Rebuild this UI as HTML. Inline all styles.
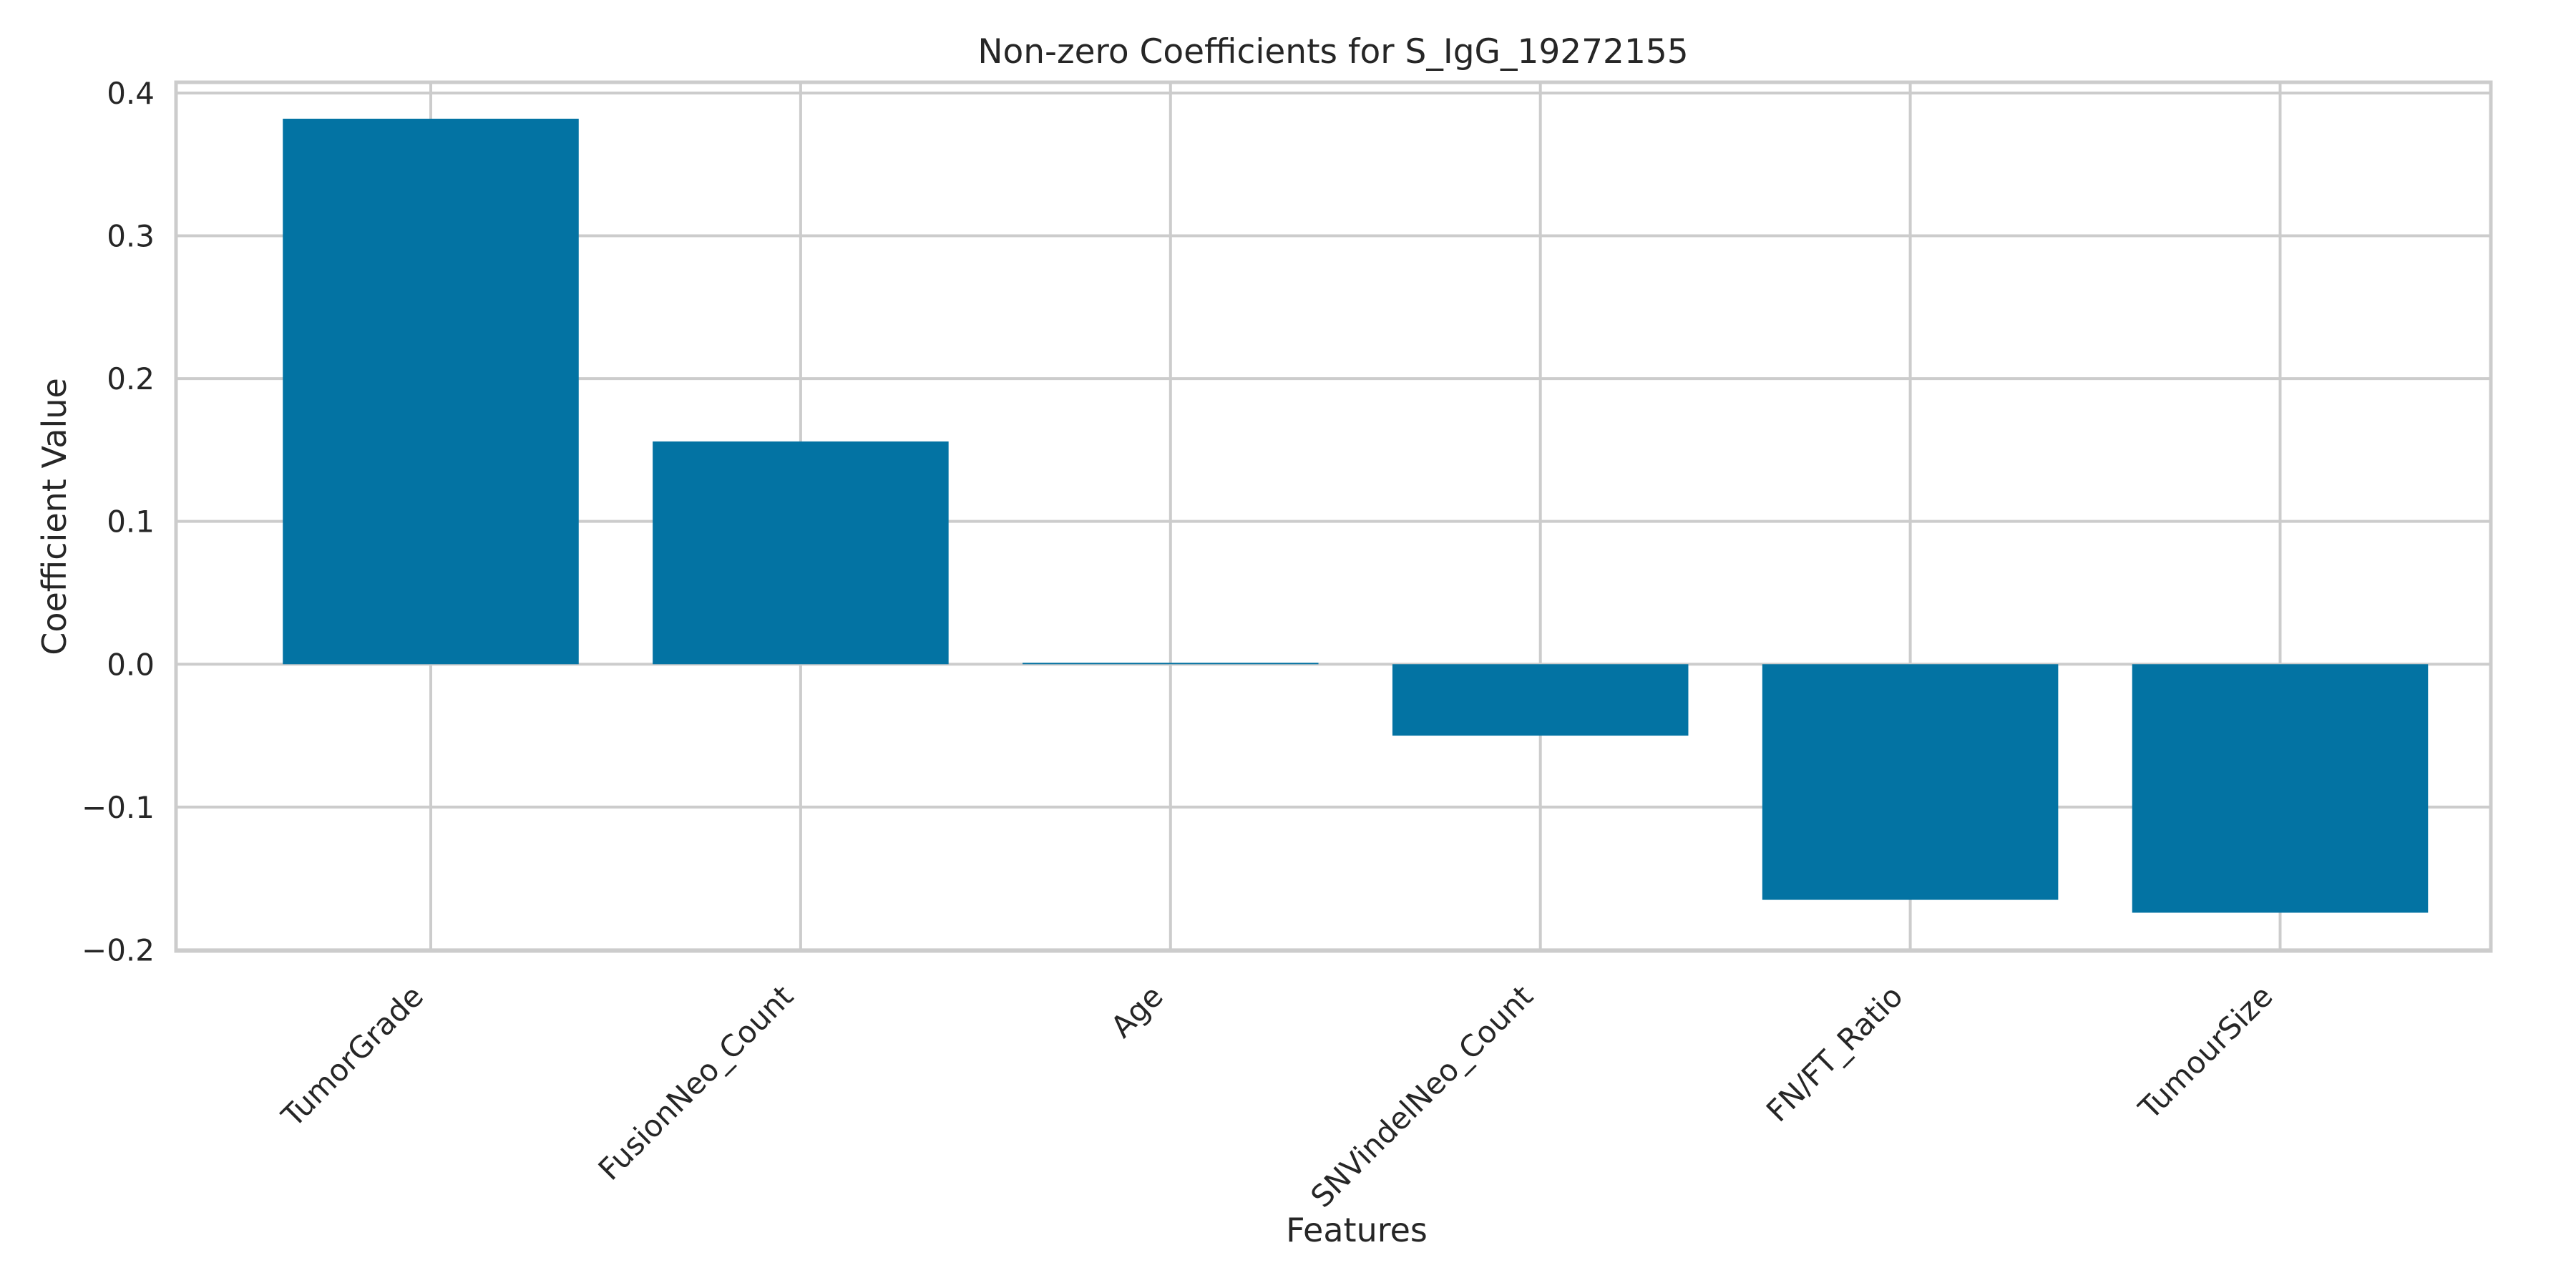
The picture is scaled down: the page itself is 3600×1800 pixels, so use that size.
<!DOCTYPE html>
<html><head><meta charset="utf-8"><style>
html,body{margin:0;padding:0;background:#fff;}
svg{display:block;font-family:"DejaVu Sans","Liberation Sans",sans-serif;}
</style></head><body>
<svg id="chart" width="3600" height="1800" viewBox="0 0 3600 1800">
<rect x="0" y="0" width="3600" height="1800" fill="#fff"/>
<g id="grid"></g><g id="bars"></g><g id="ticks"></g>
<rect x="246" y="115" width="3235" height="1214" fill="none" stroke="#cccccc" stroke-width="5"/>
<text x="1863" y="88" text-anchor="middle" font-size="47" fill="#262626">Non-zero Coefficients for S_IgG_19272155</text>
<text x="1896" y="1735" text-anchor="middle" font-size="46" fill="#262626">Features</text>
<text transform="translate(92,722) rotate(-90)" text-anchor="middle" font-size="46" fill="#262626">Coefficient Value</text>
</svg>
<script>
const categories = ["TumorGrade","FusionNeo_Count","Age","SNVindelNeo_Count","FN/FT_Ratio","TumourSize"];
const values = [0.382, 0.156, 0.001, -0.050, -0.165, -0.174];
const yTicks = [0.4, 0.3, 0.2, 0.1, 0.0, -0.1, -0.2];
const yTickLabels = ["0.4","0.3","0.2","0.1","0.0","\u22120.1","\u22120.2"];

const NS = "http://www.w3.org/2000/svg";
const plotLeft = 246, plotRight = 3481, plotTop = 115, plotBottom = 1329;
const yMin = -0.2008, yMax = 0.4075;
function yScale(v){ return plotBottom - (v - yMin) / (yMax - yMin) * (plotBottom - plotTop); }
const x0 = 602, step = 516.9;
function xScale(i){ return x0 + i * step; }
const barW = 0.8 * step;
function mk(tag, attrs, parent){ const e = document.createElementNS(NS, tag); for (const k in attrs) e.setAttribute(k, attrs[k]); parent.appendChild(e); return e; }
const gridG = document.getElementById('grid'), barsG = document.getElementById('bars'), ticksG = document.getElementById('ticks');
yTicks.forEach((t, i) => {
  const y = yScale(t);
  const l = mk('line', {x1: plotLeft, x2: plotRight, y1: y, y2: y, stroke: '#cccccc', 'stroke-width': 4}, gridG);
  
  
  const tx = mk('text', {x: 216, y: y + 15, 'text-anchor': 'end', 'font-size': 42, fill: '#262626'}, ticksG);
  tx.textContent = yTickLabels[i];
  
  
});
categories.forEach((c, i) => {
  const x = xScale(i);
  const l = mk('line', {x1: x, x2: x, y1: plotTop, y2: plotBottom, stroke: '#cccccc', 'stroke-width': 4}, gridG);
  
  
  const v = values[i];
  const y1 = yScale(Math.max(v, 0)), y2 = yScale(Math.min(v, 0));
  const r = mk('rect', {x: x - barW / 2, y: y1, width: barW, height: Math.max(y2 - y1, 2), fill: '#0373A3'}, barsG);
  
  
  const t = mk('text', {transform: 'translate(' + (x - 8) + ',1395) rotate(-45)', 'text-anchor': 'end', 'font-size': 42, fill: '#262626'}, ticksG);
  t.textContent = c;
  
  
});
</script>
</body></html>
